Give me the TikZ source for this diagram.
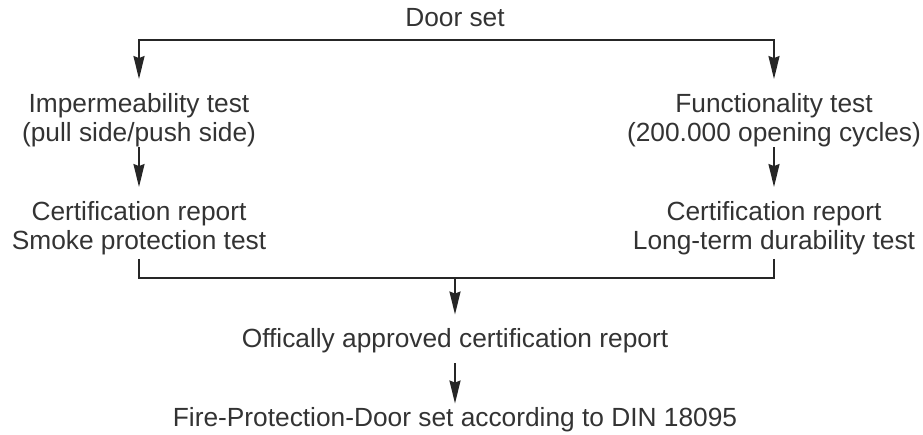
\documentclass[tikz,border=0pt]{standalone}
\usepackage{fontspec}
\setmainfont{Liberation Sans}
\usetikzlibrary{arrows.meta, positioning, calc}

\begin{document}
\begin{tikzpicture}[x=1pt, y=-1pt, >={Stealth[length=23pt, width=11pt, inset=2pt]},
    every node/.style={font=\fontsize{26.3}{29}\selectfont, text=black!80, inner sep=0pt, align=center},
    flow/.style={->, line width=1.8pt, black!85},
    link/.style={line width=1.8pt, black!85}]
    \useasboundingbox (0, 0) rectangle (923, 434);

    \node (door) at (455, 18) {Door set};
    \node (imp) at (139, 120) {Impermeability test\\(pull side/push side)};
    \node (func) at (774, 120) {Functionality test\\(200.000 opening cycles)};
    \node (cert1) at (139, 228) {Certification report\\Smoke protection test};
    \node (cert2) at (774, 228) {Certification report\\Long-term durability test};
    \node (approved) at (455, 341) {Offically approved certification report};
    \node (fire) at (455, 420) {Fire-Protection-Door set according to DIN 18095};

    \coordinate (fork) at (455, 40);
    \coordinate (merge) at (455, 278);

    \draw[flow, shorten >=14pt] (fork) -| (imp);
    \draw[flow, shorten >=14pt] (fork) -| (func);
    \draw[flow, shorten >=14pt] (imp) -- (cert1);
    \draw[flow, shorten >=14pt] (func) -- (cert2);
    \draw[link, shorten <=4pt] (cert1) |- (merge);
    \draw[link, shorten <=4pt] (cert2) |- (merge);
    \draw[flow, shorten >=14pt] (merge) -- (approved);
    \draw[flow, shorten <=10pt, shorten >=4pt] (approved) -- (fire);
\end{tikzpicture}
\end{document}
